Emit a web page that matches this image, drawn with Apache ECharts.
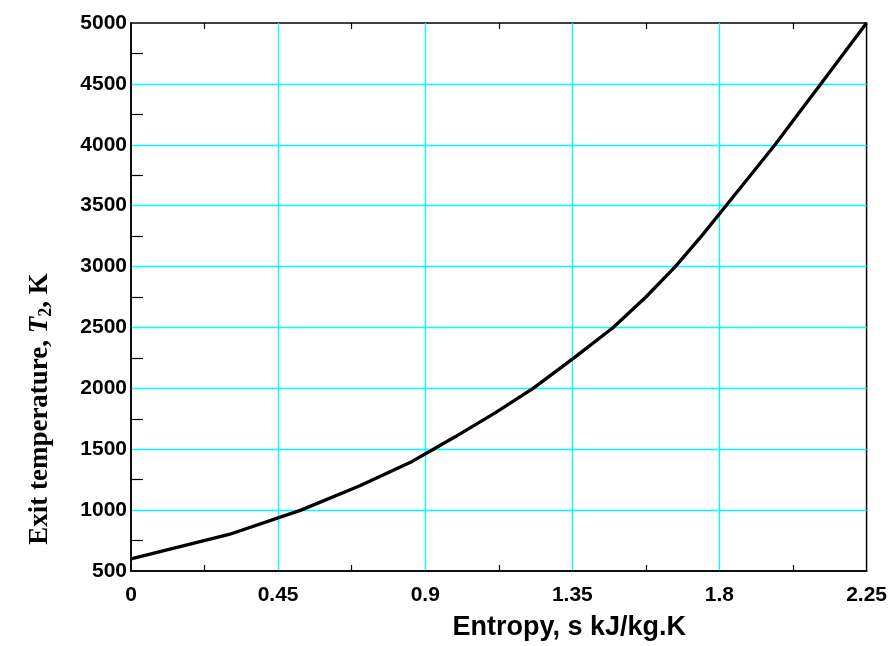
<!DOCTYPE html>
<html>
<head>
<meta charset="utf-8">
<script src="https://cdn.jsdelivr.net/npm/echarts@6/dist/echarts.min.js"></script>
<style>html,body{margin:0;padding:0;background:#fff}#c{width:890px;height:646px}</style>
</head>
<body>
<div id="c"></div>
<script>
// Entropy s (kJ/kg.K)
const entropy = [0, 0.30, 0.52, 0.70, 0.86, 0.925, 0.99, 1.115, 1.23, 1.355, 1.475, 1.575, 1.665, 1.745, 1.82, 1.895, 1.97, 2.04, 2.11, 2.18, 2.25];
// Exit temperature T2 (K)
const exitTemp = [600, 800, 1000, 1200, 1400, 1500, 1600, 1800, 2000, 2250, 2500, 2750, 3000, 3250, 3500, 3750, 4000, 4250, 4500, 4750, 5000];
const xTicks = [0, 0.45, 0.9, 1.35, 1.8, 2.25];
const yTicks = [500, 1000, 1500, 2000, 2500, 3000, 3500, 4000, 4500, 5000];

const chart = echarts.init(document.getElementById('c'));
const fmtX = v => String(parseFloat(v.toFixed(2)));
const fmtY = v => String(Math.round(v));
const axisLineStyle = {color: '#000', width: 1.5};
const xMin = xTicks[0], xMax = xTicks[xTicks.length - 1];
const yMin = yTicks[0], yMax = yTicks[yTicks.length - 1];
const data = entropy.map((s, i) => [s, exitTemp[i]]);

// tick-only axis placed 6px inside the frame, so its outward minor ticks point into the plot
function tickAxis(type, position) {
  const isX = type === 'x';
  return {
    type: 'value', min: isX ? xMin : yMin, max: isX ? xMax : yMax, interval: isX ? 0.45 : 500,
    position: position, offset: -6,
    axisLine: {show: false},
    axisTick: {show: false},
    minorTick: {show: true, splitNumber: 2, length: 6, lineStyle: {color: '#000', width: 1.2}},
    axisLabel: {show: false},
    splitLine: {show: false},
    minorSplitLine: {show: false}
  };
}

chart.setOption({
  animation: false,
  backgroundColor: '#fff',
  grid: {left: 131, right: 23, top: 23, bottom: 73, containLabel: false,
         show: true, borderColor: '#000', borderWidth: 1.5, backgroundColor: 'transparent'},
  xAxis: [{
    type: 'value', min: xMin, max: xMax, interval: 0.45,
    position: 'bottom',
    name: 'Entropy, s kJ/kg.K', nameLocation: 'middle', nameGap: 43,
    nameTextStyle: {fontFamily: 'Liberation Sans', fontWeight: 'bold', fontSize: 27, color: '#000', padding: [0, 0, 0, 141]},
    axisLine: {show: true, lineStyle: axisLineStyle},
    axisTick: {show: false},
    minorTick: {show: false},
    axisLabel: {formatter: fmtX, fontFamily: 'Liberation Sans', fontWeight: 'bold', fontSize: 21, color: '#000', margin: 14},
    splitLine: {show: true, showMinLine: false, showMaxLine: false, lineStyle: {color: '#00ffff', width: 1.3}},
    minorSplitLine: {show: false}
  }, tickAxis('x', 'bottom'), tickAxis('x', 'top')],
  yAxis: [{
    type: 'value', min: yMin, max: yMax, interval: 500,
    position: 'left',
    name: '{b|Exit temperature, }{i|T}{sub|2}{b|, K}', nameLocation: 'middle', nameGap: 76, nameRotate: 90,
    nameTextStyle: {
      padding: [0, 224, 0, 0],
      rich: {
        b: {fontFamily: 'Liberation Serif', fontWeight: 'bold', fontSize: 27, color: '#000', lineHeight: 30},
        i: {fontFamily: 'Liberation Serif', fontWeight: 'bold', fontStyle: 'italic', fontSize: 27, color: '#000', lineHeight: 30},
        sub: {fontFamily: 'Liberation Serif', fontWeight: 'bold', fontSize: 18, color: '#000', lineHeight: 14, verticalAlign: 'bottom'}
      }
    },
    axisLine: {show: true, lineStyle: axisLineStyle},
    axisTick: {show: false},
    minorTick: {show: false},
    axisLabel: {formatter: fmtY, fontFamily: 'Liberation Sans', fontWeight: 'bold', fontSize: 21, color: '#000', margin: 4},
    splitLine: {show: true, showMinLine: false, showMaxLine: false, lineStyle: {color: '#00ffff', width: 1.3}},
    minorSplitLine: {show: false}
  }, tickAxis('y', 'left'), tickAxis('y', 'right')],
  series: [{
    type: 'line', data: data, xAxisIndex: 0, yAxisIndex: 0,
    showSymbol: false, smooth: false,
    lineStyle: {color: '#000', width: 3.3}, z: 5
  }]
});
</script>
</body>
</html>
